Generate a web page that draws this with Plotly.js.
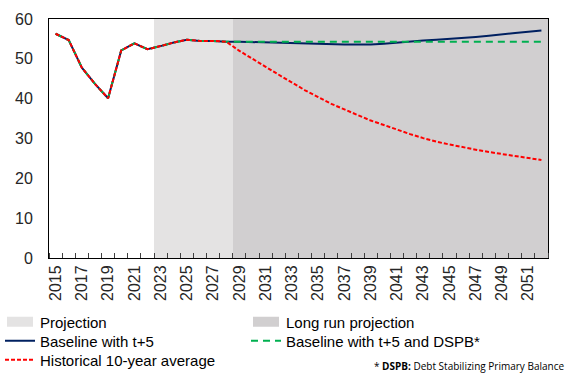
<!DOCTYPE html>
<html>
<head>
<meta charset="utf-8">
<script src="https://cdn.plot.ly/plotly-3.0.1.min.js"></script>
<style>html,body{margin:0;padding:0;background:#fff;}#chart{width:568px;height:373px;}</style>
</head>
<body>
<div id="chart"></div>
<script>
// Years (categories)
const years = [2015,2016,2017,2018,2019,2020,2021,2022,2023,2024,2025,2026,2027,2028,
  2029,2030,2031,2032,2033,2034,2035,2036,2037,2038,2039,2040,2041,2042,2043,2044,
  2045,2046,2047,2048,2049,2050,2051,2052];

// Shaded periods (bar heights = top of axis)
const projectionYears = [2023,2024,2025,2026,2027,2028];
const projectionVals  = [60,60,60,60,60,60];
const longRunYears = [2029,2030,2031,2032,2033,2034,2035,2036,2037,2038,2039,2040,
  2041,2042,2043,2044,2045,2046,2047,2048,2049,2050,2051,2052];
const longRunVals = [60,60,60,60,60,60,60,60,60,60,60,60,60,60,60,60,60,60,60,60,60,60,60,60];

// Series
const baseline = [56.3,54.7,47.8,43.7,40.1,52.1,53.9,52.4,53.2,54.1,54.8,54.5,54.5,54.3,
  54.3,54.2,54.1,54.0,53.9,53.8,53.7,53.6,53.6,53.6,53.6,53.8,54.1,54.3,54.6,54.8,
  55.0,55.3,55.5,55.8,56.2,56.5,56.8,57.1];
const baselineDSPB = [56.3,54.7,47.8,43.7,40.1,52.1,53.9,52.4,53.2,54.1,54.8,54.5,54.5,54.3,
  54.3,54.3,54.3,54.3,54.3,54.3,54.3,54.3,54.3,54.3,54.3,54.3,54.3,54.3,54.3,54.3,
  54.3,54.3,54.3,54.3,54.3,54.3,54.3,54.3];
const historical = [56.3,54.7,47.8,43.7,40.1,52.1,53.9,52.4,53.2,54.1,54.8,54.5,54.5,54.3,
  52.0,49.9,48.0,46.0,44.0,42.1,40.4,38.7,37.3,35.9,34.5,33.4,32.2,31.1,30.1,29.2,
  28.5,27.8,27.2,26.6,26.1,25.6,25.1,24.6];

const xTickLabels = ['2015','2017','2019','2021','2023','2025','2027','2029','2031','2033',
  '2035','2037','2039','2041','2043','2045','2047','2049','2051'];
const xTickVals = xTickLabels.map(Number);

const FONT = 'Liberation Sans, Arial, sans-serif';
const W = 568, H = 373;
const ML = 49, MR = 20, MT = 19, MB = 115;
const PW = W - ML - MR, PH = H - MT - MB;

const traces = [
  {type:'bar', name:'Projection', legend:'legend', x:projectionYears, y:projectionVals, width:1,
   marker:{color:'#e4e3e3', line:{width:0}}, hoverinfo:'skip'},
  {type:'bar', name:'Long run projection', legend:'legend2', x:longRunYears, y:longRunVals, width:1,
   marker:{color:'#d1cfd0', line:{width:0}}, hoverinfo:'skip'},
  {type:'scatter', mode:'lines', name:'Baseline with t+5', legend:'legend3', x:years, y:baseline,
   line:{color:'#002060', width:2}},
  {type:'scatter', mode:'lines', name:'Baseline with t+5 and DSPB*', legend:'legend4', x:years, y:baselineDSPB,
   line:{color:'#00b050', width:2, dash:'7px,5px'}},
  {type:'scatter', mode:'lines', name:'Historical 10-year average', legend:'legend5', x:years, y:historical,
   line:{color:'#ff0000', width:2, dash:'4px,2px'}}
];

// legend placed in container coords from pixel positions
function leg(px, py) {
  return {
    orientation:'h', xref:'container', yref:'container',
    x:px / W, y:1 - py / H, xanchor:'left', yanchor:'middle',
    font:{family:FONT, size:15, color:'#000000'},
    bgcolor:'rgba(0,0,0,0)', borderwidth:0
  };
}

const layout = {
  width:W, height:H,
  margin:{l:ML, r:MR, t:MT, b:MB},
  paper_bgcolor:'#ffffff', plot_bgcolor:'#ffffff',
  font:{family:FONT, size:16, color:'#262626'},
  showlegend:true,
  bargap:0, barmode:'overlay',
  xaxis:{
    type:'linear', range:[2014.5,2052.5],
    tickmode:'array', tickvals:xTickVals, ticktext:xTickLabels,
    tickangle:-90, ticks:'', showgrid:false, zeroline:false,
    showline:true, linecolor:'#000000', linewidth:1, mirror:true,
    tickfont:{family:FONT, size:16, color:'#262626'},
    minor:{tickmode:'linear', tick0:2014.5, dtick:1, ticks:'inside', ticklen:5,
      tickcolor:'#404040', tickwidth:1, showgrid:false}
  },
  yaxis:{
    range:[0,60], tickmode:'linear', tick0:0, dtick:10, ticks:'',
    showgrid:false, zeroline:false, showline:true, linecolor:'#000000', linewidth:1, mirror:true,
    ticklabelstandoff:12,
    tickfont:{family:FONT, size:16, color:'#262626'}
  },
  legend:  leg(0, 322),
  legend2: leg(246, 322),
  legend3: leg(0, 341),
  legend4: leg(246, 341),
  legend5: leg(0, 360),
  annotations:[{
    xref:'paper', yref:'paper', x:(566 - ML) / PW, y:(H - MB - 366) / PH,
    xanchor:'right', yanchor:'middle',
    showarrow:false, align:'left',
    text:'* <b>DSPB:</b> Debt Stabilizing Primary Balance',
    font:{family:'Open Sans, DejaVu Sans Condensed, sans-serif', size:10, color:'#000000'}
  }]
};

Plotly.newPlot('chart', traces, layout, {staticPlot:true, displayModeBar:false}).then(function(gd){
  // widen bar legend swatches into Excel-style rectangles
  gd.querySelectorAll('g.legendpoints path').forEach(function(p){
    var d = p.getAttribute('d') || '';
    if (d.replace(/\s/g,'') === 'M6,6H-6V-6H6Z') p.setAttribute('d','M13,5H-13V-5H13Z');
  });
});
</script>
</body>
</html>
